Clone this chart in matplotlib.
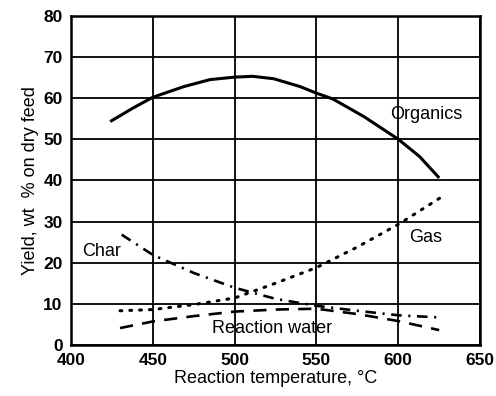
import matplotlib.pyplot as plt

plt.rcParams['font.family'] = ['Liberation Sans', 'DejaVu Sans']

# data
t_org = [424, 438, 450, 469, 485, 500, 511, 524, 540, 550, 560, 579, 600, 613, 625]
organics = [54.3, 57.6, 60.2, 62.8, 64.5, 65.1, 65.3, 64.7, 62.8, 61.2, 59.8, 55.5, 50.0, 45.8, 40.6]

t_gas = [430, 450, 475, 500, 525, 550, 575, 600, 627]
gas = [8.3, 8.6, 9.8, 11.4, 15.0, 18.8, 23.8, 29.3, 36.1]

t_char = [431, 450, 475, 500, 525, 550, 575, 600, 624]
char = [26.8, 21.9, 17.5, 13.9, 11.2, 9.5, 8.3, 7.2, 6.7]

t_water = [430, 450, 475, 500, 525, 550, 575, 600, 625]
water = [4.1, 5.7, 7.0, 8.1, 8.6, 8.8, 7.5, 5.8, 3.6]

fig = plt.figure(figsize=(4.96, 3.96), dpi=100)
ax = fig.add_axes([0.143, 0.129, 0.825, 0.831])

ax.plot(t_org, organics, color='black', lw=2.2, solid_capstyle='butt', solid_joinstyle='round')
ax.plot(t_gas, gas, color='black', lw=2.2, linestyle=(0, (0.6, 2.6)), dash_capstyle='round')
ax.plot(t_char, char, color='black', lw=1.9, linestyle=(0, (4, 2.5, 0.8, 2.5)))
ax.plot(t_water, water, color='black', lw=1.9, linestyle=(0, (5, 3.5)))

ax.text(617, 56, 'Organics', fontsize=13, ha='center', va='center')
ax.text(617, 26, 'Gas', fontsize=13, ha='center', va='center')
ax.text(419, 22.6, 'Char', fontsize=13, ha='center', va='center')
ax.text(523, 4.0, 'Reaction water', fontsize=13, ha='center', va='center')

ax.set_xlim(400, 650)
ax.set_ylim(0, 80)
ax.set_xticks([400, 450, 500, 550, 600, 650])
ax.set_yticks(range(0, 81, 10))
ax.grid(True, color='black', lw=1.3)
ax.tick_params(length=0, pad=6, labelsize=12.5)
for lab in ax.get_xticklabels() + ax.get_yticklabels():
    lab.set_fontweight('bold')
for sp in ax.spines.values():
    sp.set_linewidth(1.8)

ax.set_xlabel('Reaction temperature, °C', fontsize=13, labelpad=1)
ax.set_ylabel('Yield, wt  % on dry feed', fontsize=13, labelpad=3)

fig.savefig('out.png', dpi=100)
